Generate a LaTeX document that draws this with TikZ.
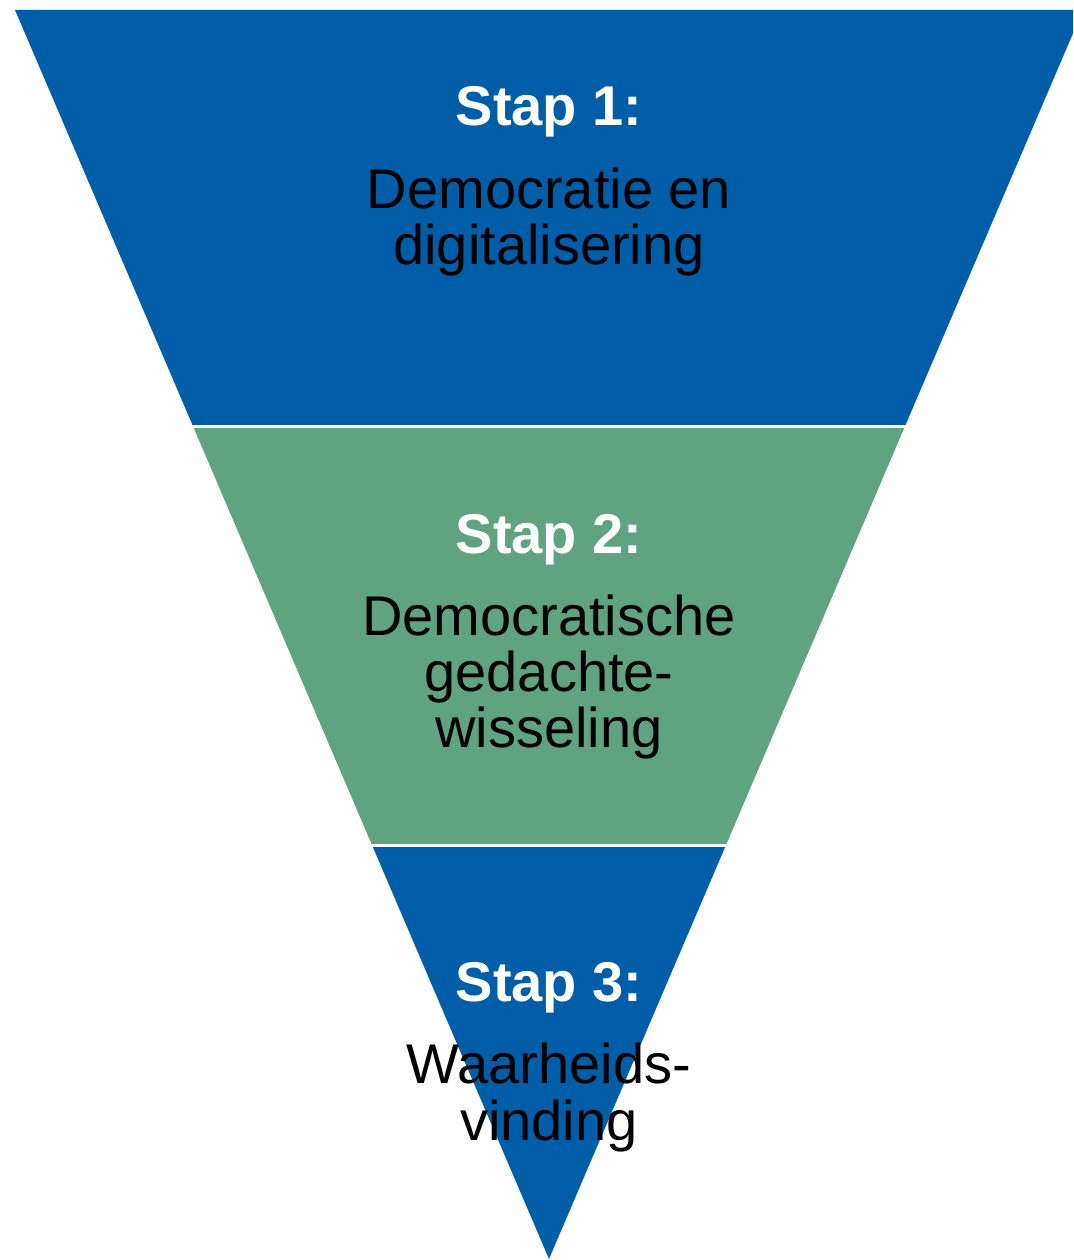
\documentclass[tikz,border=0pt]{standalone}
\usepackage{fontspec}
\setmainfont{Liberation Sans}
\usetikzlibrary{calc}
\definecolor{funnelblue}{RGB}{0,94,168}
\definecolor{funnelgreen}{RGB}{95,163,128}
\begin{document}
\begin{tikzpicture}[x=1pt,y=-1pt,
  title/.style={anchor=base,inner sep=0pt,text=white,font=\fontsize{56}{56}\selectfont\bfseries},
  body/.style={anchor=base,inner sep=0pt,text=black,font=\fontsize{56}{56}\selectfont},
  sep/.style={draw=white,line width=3pt}]
\useasboundingbox (0,0) rectangle (1073,1260);
\clip (0,0) rectangle (1073,1260);
% funnel corners
\coordinate (TL) at (15,10);
\coordinate (TR) at (1083,10);
\coordinate (AL) at (192.9,426);
\coordinate (AR) at (905.1,426);
\coordinate (BL) at (372.2,845.5);
\coordinate (BR) at (725.8,845.5);
\coordinate (TIP) at (549,1259);
\fill[funnelblue] (TL) -- (TR) -- (AR) -- (AL) -- cycle;
\fill[funnelgreen] (AL) -- (AR) -- (BR) -- (BL) -- cycle;
\fill[funnelblue] (BL) -- (BR) -- (TIP) -- cycle;
\draw[sep] ($(AL)+(-5,0)$) -- ($(AR)+(5,0)$);
\draw[sep] ($(BL)+(-5,0)$) -- ($(BR)+(5,0)$);
% texts
\node[title] (s1) at (549,126) {Stap 1:};
\node[body] (s1a) at (549,208) {Democratie en};
\node[body] (s1b) at (549,264) {digitalisering};
\node[title] (s2) at (549,553) {Stap 2:};
\node[body] (s2a) at (549,635) {Democratische};
\node[body] (s2b) at (549,691) {gedachte-};
\node[body] (s2c) at (549,747) {wisseling};
\node[title] (s3) at (549,1001) {Stap 3:};
\node[body] (s3a) at (549,1083) {Waarheids-};
\node[body] (s3b) at (549,1140) {vinding};
\end{tikzpicture}
\end{document}
